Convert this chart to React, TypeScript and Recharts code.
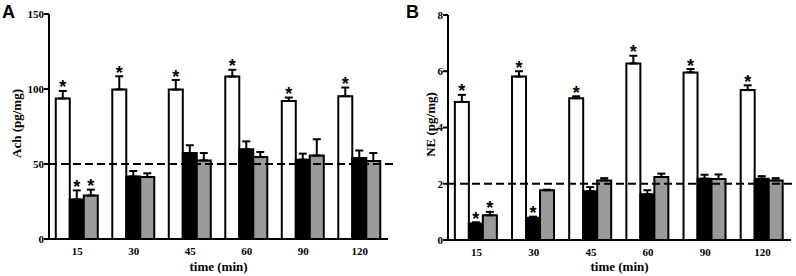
import React from "react";
import { BarChart, Bar, XAxis, YAxis, ErrorBar, ReferenceLine } from "recharts";

const times = ["15", "30", "45", "60", "90", "120"];

// panel A - Ach (pg/mg)
const achWhite = [93.7, 99.7, 99.6, 108.3, 92.0, 95.2];
const achWhiteErr = [5.0, 8.8, 6.4, 4.5, 2.3, 5.8];
const achBlack = [26.4, 41.7, 57.3, 59.8, 52.9, 54.0];
const achBlackErr = [6.0, 3.6, 5.2, 5.3, 4.0, 5.0];
const achGray = [29.0, 41.3, 52.4, 54.6, 55.6, 52.0];
const achGrayErr = [3.9, 2.5, 4.9, 3.4, 10.9, 5.3];
const achWhiteStar = [1, 1, 1, 1, 1, 1];
const achBlackStar = [1, 0, 0, 0, 0, 0];
const achGrayStar = [1, 0, 0, 0, 0, 0];
const achTicks = [0, 50, 100, 150];

// panel B - NE (pg/mg)
const neWhite = [4.91, 5.81, 5.04, 6.28, 5.96, 5.33];
const neWhiteErr = [0.25, 0.19, 0.07, 0.27, 0.12, 0.17];
const neBlack = [0.59, 0.79, 1.73, 1.63, 2.18, 2.18];
const neBlackErr = [0.04, 0.04, 0.15, 0.14, 0.14, 0.09];
const neGray = [0.88, 1.77, 2.12, 2.24, 2.17, 2.12];
const neGrayErr = [0.12, 0.02, 0.08, 0.12, 0.16, 0.08];
const neWhiteStar = [1, 1, 1, 1, 1, 1];
const neBlackStar = [1, 1, 0, 0, 0, 0];
const neGrayStar = [1, 0, 0, 0, 0, 0];
const neTicks = [0, 2, 4, 6, 8];

const SERIF = "'Liberation Serif', 'Times New Roman', serif";
const SANS = "'Liberation Sans', Arial, sans-serif";

function buildRows(w: number[], we: number[], b: number[], be: number[], g: number[], ge: number[]) {
  return times.map((t, i) => ({
    time: t,
    white: w[i],
    whiteErr: [0, we[i]],
    black: b[i],
    blackErr: [0, be[i]],
    gray: g[i],
    grayErr: [0, ge[i]],
  }));
}

// asterisk sitting just above the error bar cap
const starLabel = (stars: number[], errs: number[]) => (p: any) => {
  const { x, y, width, height, value, index } = p;
  if (!stars[index] || !value) return null;
  const top = Number(y) - (Number(height) / Number(value)) * errs[index];
  return (
    <text
      x={Number(x) + Number(width) / 2}
      y={top + 2.5}
      textAnchor="middle"
      fontFamily={SANS}
      fontWeight="bold"
      fontSize={18}
      fill="#000"
    >
      *
    </text>
  );
};

const yTitle = (text: string, cx: number) => (p: any) => {
  const vb = p.viewBox || {};
  const cy = vb.y + vb.height / 2 - 3;
  return (
    <text
      x={cx}
      y={cy}
      transform={`rotate(-90 ${cx} ${cy})`}
      textAnchor="middle"
      dominantBaseline="central"
      fontFamily={SERIF}
      fontWeight="bold"
      fontSize={13}
      fill="#000"
    >
      {text}
    </text>
  );
};

function Panel(props: any) {
  const { rows, letter, title, titleX, domain, ticks, refY, left, margin, yWidth, stars, errs } = props;
  return (
    <div style={{ position: "absolute", left, top: 0, width: 398, height: 276 }}>
      <BarChart
        width={398}
        height={276}
        data={rows}
        margin={margin}
        barGap={0}
        barCategoryGap="12%"
      >
        <XAxis
          dataKey="time"
          axisLine={{ stroke: "#000", strokeWidth: 2 }}
          tickLine={false}
          tickSize={6}
          tickMargin={2}
          height={276 - margin.top - margin.bottom - (margin.plotH as number)}
          tick={{ fill: "#000", fontFamily: SERIF, fontWeight: "bold", fontSize: 11 }}
          label={{
            value: "time (min)",
            position: "insideBottom",
            offset: 5,
            fill: "#000",
            fontFamily: SERIF,
            fontWeight: "bold",
            fontSize: 13,
          }}
        />
        <YAxis
          width={yWidth}
          domain={domain}
          ticks={ticks}
          interval={0}
          axisLine={{ stroke: "#000", strokeWidth: 2 }}
          tickLine={{ stroke: "#000", strokeWidth: 2 }}
          tickSize={5}
          tickMargin={0}
          tick={{ fill: "#000", fontFamily: SERIF, fontWeight: "bold", fontSize: 11 }}
          label={{ content: yTitle(title, titleX) }}
        />
        <Bar dataKey="white" fill="#fff" stroke="#000" strokeWidth={2} isAnimationActive={false}
          label={starLabel(stars[0], errs[0])}>
          <ErrorBar dataKey="whiteErr" direction="y" width={4} stroke="#000" strokeWidth={2} />
        </Bar>
        <Bar dataKey="black" fill="#000" stroke="#000" strokeWidth={2} isAnimationActive={false}
          label={starLabel(stars[1], errs[1])}>
          <ErrorBar dataKey="blackErr" direction="y" width={4} stroke="#000" strokeWidth={2} />
        </Bar>
        <Bar dataKey="gray" fill="#9a9a9a" stroke="#000" strokeWidth={2} isAnimationActive={false}
          label={starLabel(stars[2], errs[2])}>
          <ErrorBar dataKey="grayErr" direction="y" width={4} stroke="#000" strokeWidth={2} />
        </Bar>
        <ReferenceLine
          y={refY}
          stroke="#000"
          strokeWidth={2}
          strokeDasharray="8 4"
          shape={(p: any) => (
            <line x1={p.x1} y1={p.y1} x2={p.x2 + 5} y2={p.y2} stroke="#000" strokeWidth={2} strokeDasharray="8 4" />
          )}
        />
      </BarChart>
      <div
        style={{
          position: "absolute",
          left: letter === "A" ? 2 : 8,
          top: 3,
          fontFamily: SANS,
          fontWeight: "bold",
          fontSize: 18,
          lineHeight: 1,
        }}
      >
        {letter}
      </div>
    </div>
  );
}

export default function App() {
  const rowsA = buildRows(achWhite, achWhiteErr, achBlack, achBlackErr, achGray, achGrayErr);
  const rowsB = buildRows(neWhite, neWhiteErr, neBlack, neBlackErr, neGray, neGrayErr);
  return (
    <div style={{ position: "absolute", left: 0, top: 0, width: 796, height: 276, background: "#fff" }}>
      <Panel
        rows={rowsA}
        letter="A"
        title="Ach (pg/mg)"
        titleX={16}
        domain={[0, 150]}
        ticks={achTicks}
        refY={50}
        left={0}
        yWidth={49}
        margin={{ top: 14, right: 10, bottom: 0, left: 0, plotH: 225 }}
        stars={[achWhiteStar, achBlackStar, achGrayStar]}
        errs={[achWhiteErr, achBlackErr, achGrayErr]}
      />
      <Panel
        rows={rowsB}
        letter="B"
        title="NE (pg/mg)"
        titleX={32}
        domain={[0, 8]}
        ticks={neTicks}
        refY={2}
        left={398}
        yWidth={50}
        margin={{ top: 15, right: 5, bottom: 0, left: 0, plotH: 225 }}
        stars={[neWhiteStar, neBlackStar, neGrayStar]}
        errs={[neWhiteErr, neBlackErr, neGrayErr]}
      />
    </div>
  );
}
